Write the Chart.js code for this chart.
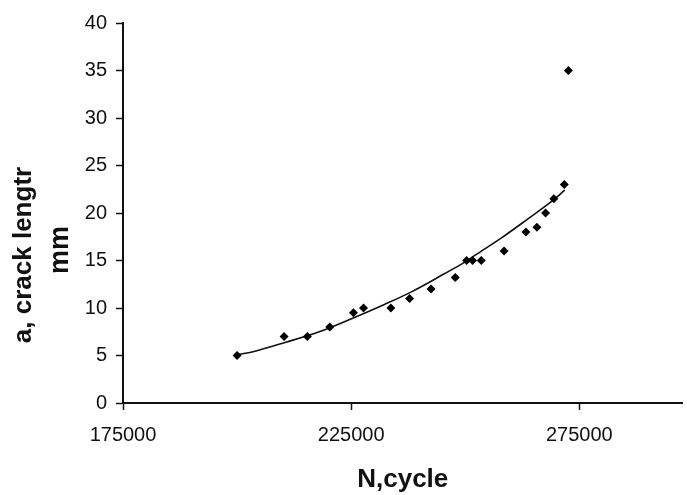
<!DOCTYPE html>
<html>
<head>
<meta charset="utf-8">
<script src="https://cdn.jsdelivr.net/npm/chart.js@4"></script>
<style>
  html, body { margin: 0; padding: 0; background: #fff; }
  #wrap { width: 687px; height: 495px; }
</style>
</head>
<body>
<div id="wrap"><canvas id="crackChart"></canvas></div>
<script>
// Measured points: N (cycles) vs a (crack length, mm)
const cycles = [200000, 210300, 215400, 220300, 225500, 227700, 233700, 237800, 242500, 247800,
                250300, 251600, 253500, 258500, 263300, 265700, 267600, 269400, 271700, 272600];
const crackLength = [5, 7, 7, 8, 9.5, 10, 10, 11, 12, 13.2,
                     15, 15, 15, 16, 18, 18.5, 20, 21.5, 23, 35];

// Trend curve
const trendCycles = [200000, 203500, 210700, 218000, 225200, 232400, 238200,
                     245400, 249800, 252600, 257700, 263500, 269400, 271800];
const trendLength = [5.1, 5.4, 6.4, 7.5, 8.9, 10.4, 11.7,
                     13.6, 14.8, 15.7, 17.3, 19.3, 21.4, 22.4];

// Axis ticks and titles
const xTicks = [175000, 225000, 275000];
const yTicks = [0, 5, 10, 15, 20, 25, 30, 35, 40];
const xTitle = "N,cycle";
const yTitle = ["a, crack lengtr", "mm"];

const FONT = "'Liberation Sans', Arial, sans-serif";
const INK = "#111";

// y title drawn by hand so it sits where the original has it
const yTitlePlugin = {
  id: "yTitle",
  afterDraw(chart) {
    const c = chart.ctx;
    const pos = [[24, 255, 26], [61, 250, 27]];
    c.save();
    c.fillStyle = INK;
    c.textAlign = "center";
    c.textBaseline = "middle";
    yTitle.forEach((t, i) => {
      c.save();
      c.font = "bold " + pos[i][2] + "px " + FONT;
      c.translate(pos[i][0], pos[i][1]);
      c.rotate(-Math.PI / 2);
      c.fillText(t, 0, 0);
      c.restore();
    });
    c.restore();
  }
};

const ctx = document.getElementById("crackChart").getContext("2d");
new Chart(ctx, {
  type: "scatter",
  data: {
    datasets: [
      {
        label: "Measured",
        data: cycles.map((x, i) => ({ x: x, y: crackLength[i] })),
        pointStyle: "rectRot",
        pointRadius: 4.5,
        backgroundColor: "#000",
        borderColor: "#000",
        borderWidth: 0
      },
      {
        label: "Trend",
        data: trendCycles.map((x, i) => ({ x: x, y: trendLength[i] })),
        showLine: true,
        borderColor: INK,
        borderWidth: 1.6,
        pointRadius: 0,
        cubicInterpolationMode: "monotone"
      }
    ]
  },
  options: {
    responsive: true,
    maintainAspectRatio: false,
    animation: false,
    layout: { padding: { top: 23, right: 0, bottom: 0, left: 0 } },
    plugins: {
      legend: { display: false },
      tooltip: { enabled: false }
    },
    scales: {
      x: {
        type: "linear",
        min: 175000,
        max: 297600,
        afterBuildTicks: s => { s.ticks = xTicks.map(v => ({ value: v })); },
        afterFit: s => { s.height = 92; },
        grid: { drawOnChartArea: false, color: INK, tickLength: 7, tickWidth: 1.5 },
        border: { color: INK, width: 2 },
        ticks: {
          color: INK,
          padding: 13,
          maxRotation: 0,
          font: { family: FONT, size: 20 },
          callback: v => String(v)
        },
        title: {
          display: true,
          text: xTitle,
          color: INK,
          font: { family: FONT, size: 26, weight: "bold", lineHeight: 1.2 },
          padding: { top: 0, bottom: 0 }
        }
      },
      y: {
        min: 0,
        max: 40,
        afterBuildTicks: s => { s.ticks = yTicks.map(v => ({ value: v })); },
        afterFit: s => { s.width = 123; },
        grid: { drawOnChartArea: false, color: INK, tickLength: 7, tickWidth: 1.5 },
        border: { color: INK, width: 2 },
        ticks: {
          color: INK,
          padding: 9,
          font: { family: FONT, size: 20 },
          callback: v => String(v)
        }
      }
    }
  },
  plugins: [yTitlePlugin]
});
</script>
</body>
</html>
